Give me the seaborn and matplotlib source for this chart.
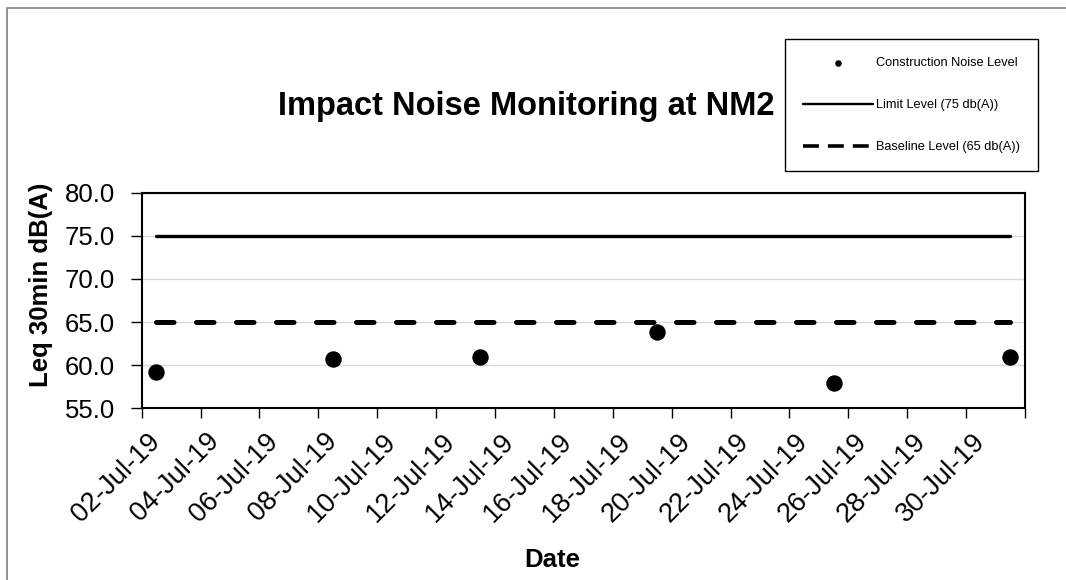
import matplotlib
matplotlib.use("Agg")
import matplotlib.pyplot as plt
import matplotlib.dates as mdates
from matplotlib.patches import Rectangle
from matplotlib.lines import Line2D
from matplotlib.ticker import FixedLocator, NullFormatter
import seaborn as sns
import pandas as pd

# data
sample_dates = ["2019-07-02", "2019-07-08", "2019-07-13", "2019-07-19", "2019-07-25", "2019-07-31"]
noise_levels = [59.2, 60.7, 60.9, 63.9, 57.9, 61.0]
limit_level = 75
baseline_level = 65
period = ["2019-07-02", "2019-07-31"]
y_ticks = [55, 60, 65, 70, 75, 80]
label_dates = ["2019-07-02", "2019-07-04", "2019-07-06", "2019-07-08", "2019-07-10",
               "2019-07-12", "2019-07-14", "2019-07-16", "2019-07-18", "2019-07-20",
               "2019-07-22", "2019-07-24", "2019-07-26", "2019-07-28", "2019-07-30"]

sns.set_theme(style="white")
plt.rcParams["font.family"] = ["Liberation Sans", "DejaVu Sans"]
plt.rcParams["text.color"] = "black"
plt.rcParams["axes.labelcolor"] = "black"
plt.rcParams["xtick.color"] = "black"
plt.rcParams["ytick.color"] = "black"

fig = plt.figure(figsize=(10.66, 5.8), dpi=100)
ax = fig.add_axes([141.7 / 1066, 1 - 408.3 / 580, 883.3 / 1066, 215.6 / 580])

df = pd.DataFrame({"date": pd.to_datetime(sample_dates), "level": noise_levels})
lim = pd.DataFrame({"date": pd.to_datetime(period), "level": [limit_level] * 2})
base = pd.DataFrame({"date": pd.to_datetime(period), "level": [baseline_level] * 2})

sns.scatterplot(data=df, x="date", y="level", s=140, color="black", linewidth=0,
                ax=ax, label="Construction Noise Level", zorder=5)
sns.lineplot(data=lim, x="date", y="level", color="black", lw=2.4, ax=ax,
             label="Limit Level (75 db(A))")
sns.lineplot(data=base, x="date", y="level", color="black", lw=3.6, ax=ax,
             linestyle=(0, (3.5, 4.5)), dash_capstyle="round",
             label="Baseline Level (65 db(A))")

# one slot per day, dates sit at slot centres
ax.set_xlim(pd.Timestamp("2019-07-01 12:00"), pd.Timestamp("2019-07-31 12:00"))
bounds = pd.date_range("2019-07-01 12:00", periods=16, freq="2D")
ax.xaxis.set_major_locator(FixedLocator(mdates.date2num(bounds)))
ax.xaxis.set_major_formatter(NullFormatter())
lab = pd.to_datetime(label_dates)
ax.set_xticks(mdates.date2num(lab), labels=[d.strftime("%d-%b-%y") for d in lab], minor=True)
ax.tick_params(axis="x", which="major", bottom=True, length=7, width=1)
ax.tick_params(axis="x", which="minor", bottom=True, length=0, pad=21, labelsize=19.5)
plt.setp(ax.get_xticklabels(minor=True), rotation=45, ha="right", va="center",
         rotation_mode="anchor")

ax.set_ylim(55, 80)
ax.set_yticks(y_ticks, labels=[f"{v:.1f}" for v in y_ticks])
ax.tick_params(axis="y", left=True, length=8, width=1, labelsize=18.5, pad=11)
ax.yaxis.grid(True, color="#d9d9d9", lw=1)
ax.set_axisbelow(True)
for s in ax.spines.values():
    s.set_color("black")
    s.set_linewidth(1.5)

ax.set_ylabel("Leq 30min dB(A)", fontsize=18.5, fontweight="bold")
ax.yaxis.set_label_coords(-0.1, 0.572)
ax.set_xlabel("Date", fontsize=18.5, fontweight="bold", va="top")
ax.xaxis.set_label_coords(0.4645, -0.648)

fig.text(526 / 1066, 1 - 115 / 580, "Impact Noise Monitoring at NM2", ha="center",
         va="baseline", fontsize=23.5, fontweight="bold")

handles, labels = ax.get_legend_handles_labels()
ax.get_legend().remove()
handles[1] = Line2D([], [], color="black", lw=1.7)
handles[2] = Line2D([], [], color="black", lw=2.6, linestyle=(0, (4.4, 2.5)))
fig.legend(handles, labels, loc="upper left", bbox_to_anchor=(785 / 1066, 1 - 39.3 / 580),
           borderaxespad=0, fontsize=9.2, markerscale=0.4, handlelength=5.5,
           handletextpad=0.25, labelspacing=2.35, borderpad=1.4, frameon=True,
           fancybox=False, edgecolor="black", framealpha=1)

fig.add_artist(Rectangle((7 / 1066, -0.5), 2, 1.5 - 8 / 580, transform=fig.transFigure,
                         fill=False, edgecolor="#808080", lw=1.2))

fig.savefig("out.png", dpi=100)
